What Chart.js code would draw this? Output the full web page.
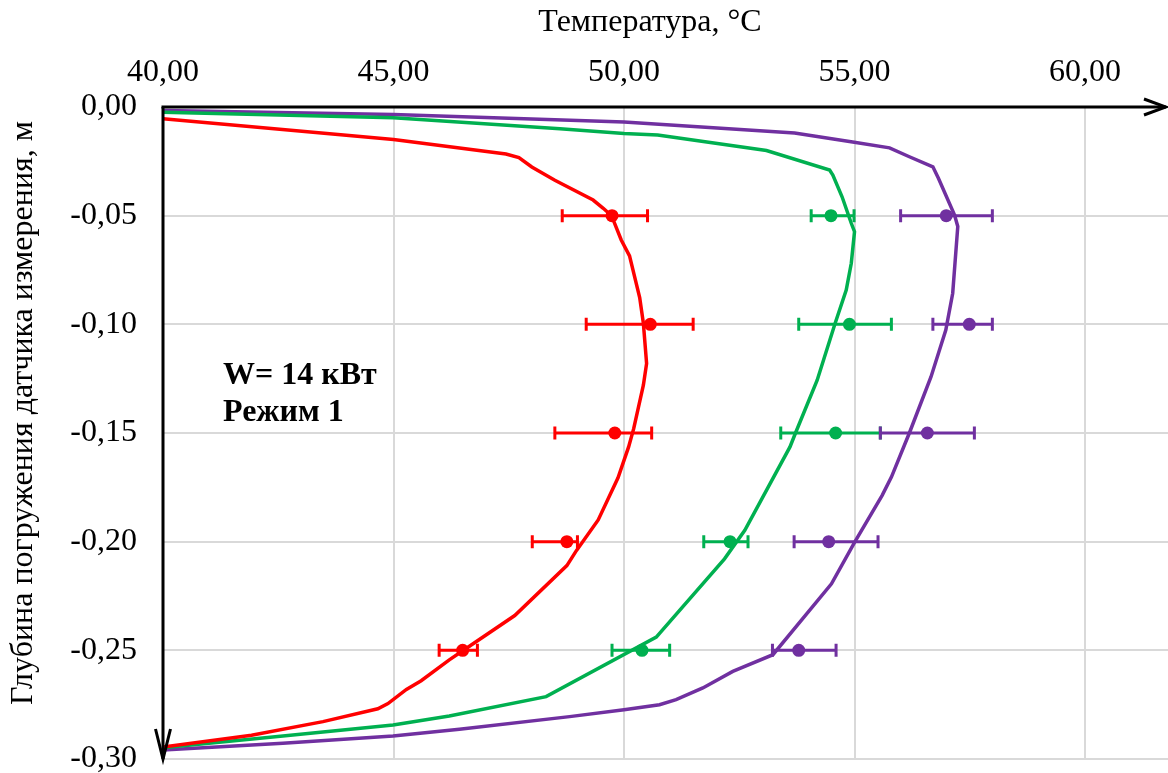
<!DOCTYPE html>
<html lang="ru">
<head>
<meta charset="utf-8">
<title>Температура по глубине</title>
<script src="https://cdn.jsdelivr.net/npm/chart.js@4.4.1/dist/chart.umd.min.js"></script>
<style>
  html, body { margin: 0; padding: 0; background: #fff; }
  #wrap { width: 1168px; height: 773px; }
</style>
</head>
<body>
<div id="wrap"><canvas id="tempChart" width="1168" height="773"></canvas></div>
<script>
// Оси
const xTicks = [40, 45, 50, 55, 60];
const yTicks = [0, -0.05, -0.10, -0.15, -0.20, -0.25, -0.30];

// Глубины датчиков, м
const depths = [-0.05, -0.10, -0.15, -0.20, -0.25];

// Измерения: среднее и границы разброса, °C
const redMeas   = [49.74, 50.57, 49.80, 48.76, 46.50];
const redLow    = [48.66, 49.18, 48.50, 48.01, 45.99];
const redHigh   = [50.51, 51.50, 50.60, 48.99, 46.82];

const greenMeas = [54.49, 54.89, 54.59, 52.30, 50.39];
const greenLow  = [54.06, 53.79, 53.40, 51.73, 49.74];
const greenHigh = [54.99, 55.80, 55.56, 52.69, 50.99];

const violetMeas = [56.99, 57.49, 56.58, 54.44, 53.79];
const violetLow  = [56.00, 56.70, 55.56, 53.69, 53.22];
const violetHigh = [57.99, 57.99, 57.60, 55.51, 54.60];

// Расчётные профили: температура, °C
const redCurveT = [40.00, 45.00, 47.44, 47.72, 48.00, 48.50, 49.33, 49.55, 49.73, 49.94,
                   50.12, 50.34, 50.42, 50.49, 50.42, 50.21, 50.10, 49.87, 49.44, 48.97,
                   48.76, 47.63, 46.51, 46.21, 45.60, 45.28, 44.88, 44.66, 43.47, 41.92, 40.00];
// ... и глубина, м
const redCurveD = [-0.0054, -0.0150, -0.0216, -0.0233, -0.0276, -0.0337, -0.0428, -0.0466, -0.0500, -0.0612,
                   -0.0685, -0.0877, -0.0995, -0.1180, -0.1280, -0.1480, -0.1564, -0.1706, -0.1900, -0.2040,
                   -0.2110, -0.2340, -0.2501, -0.2544, -0.2640, -0.2680, -0.2745, -0.2769, -0.2828, -0.2891, -0.2945];

const greenCurveT = [40.00, 45.00, 48.61, 50.00, 50.73, 53.09, 54.46, 54.53, 54.73, 54.93,
                     55.00, 54.93, 54.82, 54.58, 54.19, 53.72, 53.60, 52.62, 52.18, 50.70,
                     48.31, 46.21, 44.99, 42.60, 40.00];
const greenCurveD = [-0.0024, -0.0050, -0.0100, -0.0122, -0.0129, -0.0200, -0.0290, -0.0313, -0.0413, -0.0535,
                     -0.0574, -0.0719, -0.0842, -0.0995, -0.1257, -0.1500, -0.1564, -0.1948, -0.2079, -0.2439,
                     -0.2713, -0.2802, -0.2844, -0.2894, -0.2948];

const violetCurveT = [40.00, 45.00, 50.00, 53.70, 54.96, 55.76, 56.19, 56.70, 56.82, 57.17,
                      57.24, 57.13, 56.98, 56.66, 56.19, 55.80, 55.60, 55.01, 54.50, 53.23,
                      52.36, 51.71, 51.13, 50.77, 50.00, 48.82, 46.43, 44.99, 42.60, 40.00];
const violetCurveD = [-0.0016, -0.0034, -0.0069, -0.0120, -0.0161, -0.0188, -0.0229, -0.0275, -0.0328, -0.0497,
                      -0.0550, -0.0857, -0.1026, -0.1241, -0.1500, -0.1703, -0.1787, -0.2000, -0.2194, -0.2520,
                      -0.2597, -0.2673, -0.2727, -0.2750, -0.2773, -0.2805, -0.2863, -0.2894, -0.2928, -0.2959];

const RED = '#FF0000';
const GREEN = '#00B050';
const VIOLET = '#7030A0';
const FONT = '"Liberation Serif", "Times New Roman", serif';

function pairs(xs, ys) {
    return xs.map((x, i) => ({ x: x, y: ys[i] }));
}

function curve(xs, ys, color, order) {
    return {
        type: 'line',
        data: pairs(xs, ys),
        borderColor: color,
        borderWidth: 3.5,
        pointRadius: 0,
        tension: 0,
        fill: false,
        order: order
    };
}

function markers(xs, color, low, high) {
    return {
        type: 'scatter',
        data: pairs(xs, depths),
        backgroundColor: color,
        borderWidth: 0,
        pointRadius: 6.5,
        errLow: low,
        errHigh: high,
        errColor: color,
        order: 0
    };
}

// Горизонтальные планки погрешностей
const errorBars = {
    id: 'errorBars',
    beforeDatasetsDraw(chart) {
        const ctx = chart.ctx;
        const xs = chart.scales.x, ys = chart.scales.y;
        ctx.save();
        chart.data.datasets.forEach(ds => {
            if (!ds.errLow) return;
            ctx.strokeStyle = ds.errColor;
            ctx.lineWidth = 3;
            depths.forEach((d, i) => {
                const y = ys.getPixelForValue(d);
                const x1 = xs.getPixelForValue(ds.errLow[i]);
                const x2 = xs.getPixelForValue(ds.errHigh[i]);
                ctx.beginPath();
                ctx.moveTo(x1, y); ctx.lineTo(x2, y);
                ctx.moveTo(x1, y - 6.5); ctx.lineTo(x1, y + 6.5);
                ctx.moveTo(x2, y - 6.5); ctx.lineTo(x2, y + 6.5);
                ctx.stroke();
            });
        });
        ctx.restore();
    }
};

// Оси со стрелками, подписи осей и режим
const decorations = {
    id: 'decorations',
    afterDatasetsDraw(chart) {
        const ctx = chart.ctx;
        const a = chart.chartArea;
        ctx.save();
        ctx.strokeStyle = '#000';
        ctx.lineWidth = 3;
        ctx.lineCap = 'butt';
        // верхняя ось X
        ctx.beginPath();
        ctx.moveTo(a.left - 1.5, a.top);
        ctx.lineTo(a.right - 2, a.top);
        ctx.stroke();
        ctx.beginPath();
        ctx.moveTo(a.right - 24, a.top - 8);
        ctx.lineTo(a.right - 2, a.top);
        ctx.lineTo(a.right - 24, a.top + 8);
        ctx.stroke();
        // левая ось Y
        ctx.beginPath();
        ctx.moveTo(a.left, a.top);
        ctx.lineTo(a.left, a.bottom);
        ctx.stroke();
        ctx.beginPath();
        ctx.moveTo(a.left - 7.5, a.bottom - 30);
        ctx.lineTo(a.left, a.bottom);
        ctx.lineTo(a.left + 7.5, a.bottom - 30);
        ctx.stroke();
        ctx.restore();
    },
    afterDraw(chart) {
        const ctx = chart.ctx;
        const a = chart.chartArea;
        ctx.save();
        ctx.fillStyle = '#000';
        ctx.font = '32px ' + FONT;
        ctx.textAlign = 'center';
        ctx.textBaseline = 'alphabetic';
        ctx.fillText('Температура, °C', 650, 31);

        ctx.translate(32, 413);
        ctx.rotate(-Math.PI / 2);
        ctx.fillText('Глубина погружения датчика измерения, м', 0, 0);
        ctx.restore();

        ctx.save();
        ctx.fillStyle = '#000';
        ctx.font = 'bold 32px ' + FONT;
        ctx.textAlign = 'left';
        ctx.fillText('W= 14 кВт', a.left + 60, 384);
        ctx.fillText('Режим 1', a.left + 60, 421);
        ctx.restore();
    }
};

function fmt(v) {
    if (Math.abs(v) < 1e-9) return '0,00';
    return v.toFixed(2).replace('.', ',');
}

Chart.defaults.color = '#000';
Chart.defaults.font.family = FONT;

new Chart(document.getElementById('tempChart'), {
    type: 'scatter',
    data: {
        datasets: [
            markers(redMeas, RED, redLow, redHigh),
            markers(greenMeas, GREEN, greenLow, greenHigh),
            markers(violetMeas, VIOLET, violetLow, violetHigh),
            curve(redCurveT, redCurveD, RED, 1),
            curve(greenCurveT, greenCurveD, GREEN, 2),
            curve(violetCurveT, violetCurveD, VIOLET, 3)
        ]
    },
    options: {
        responsive: false,
        animation: false,
        devicePixelRatio: 1,
        layout: { autoPadding: false, padding: { left: 0, right: 0, top: 0, bottom: 14 } },
        plugins: {
            legend: { display: false },
            tooltip: { enabled: false }
        },
        scales: {
            x: {
                type: 'linear',
                position: 'top',
                min: 40,
                max: 61.8,
                afterBuildTicks: s => { s.ticks = xTicks.map(v => ({ value: v })); },
                afterFit: s => { s.height = 107; s.paddingLeft = 0; s.paddingRight = 0; },
                ticks: {
                    font: { size: 32 },
                    padding: 15,
                    maxRotation: 0,
                    callback: v => fmt(v)
                },
                grid: { color: '#D9D9D9', lineWidth: 2, drawTicks: false },
                border: { display: false }
            },
            y: {
                type: 'linear',
                min: -0.30,
                max: 0,
                afterBuildTicks: s => { s.ticks = yTicks.map(v => ({ value: v })); },
                afterFit: s => { s.width = 163; s.paddingTop = 0; s.paddingBottom = 0; },
                ticks: {
                    font: { size: 32 },
                    padding: 26,
                    callback: v => fmt(v)
                },
                grid: { color: '#D9D9D9', lineWidth: 2, drawTicks: false },
                border: { display: false }
            }
        }
    },
    plugins: [errorBars, decorations]
});
</script>
</body>
</html>
